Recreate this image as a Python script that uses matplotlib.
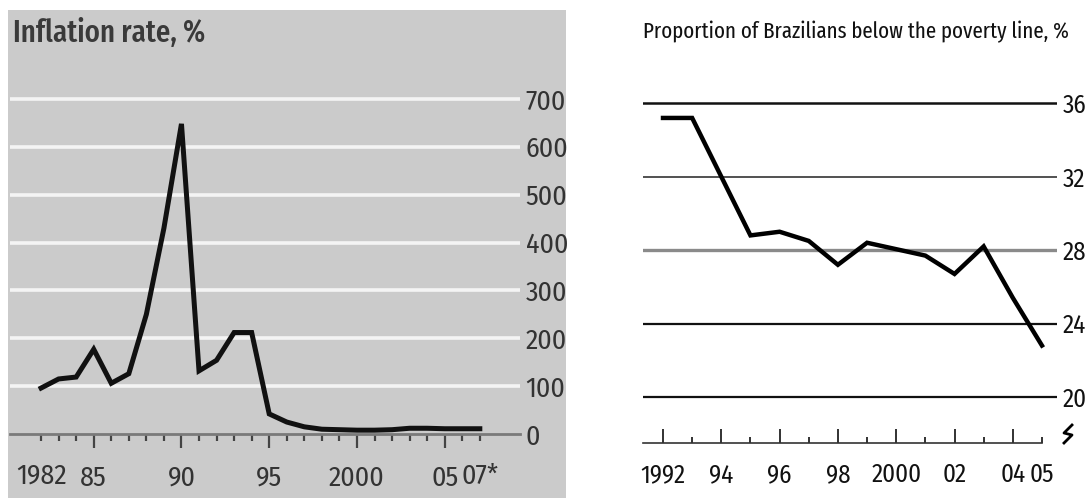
import matplotlib
matplotlib.use('Agg')
import matplotlib.pyplot as plt
from matplotlib import font_manager as fm
from matplotlib.patches import Rectangle
from matplotlib.lines import Line2D
from matplotlib.ticker import FixedLocator, FixedFormatter

# inflation rate, % (left panel)
infl_years = list(range(1982, 2008))
infl_rate = [96, 115, 119, 177, 106, 126, 250, 430, 648, 132, 154, 212, 212,
             42, 25, 15, 10, 9, 8, 8, 9, 12, 12, 11, 11, 11]
infl_yticks = [0, 100, 200, 300, 400, 500, 600, 700]
infl_major = [1985, 1990, 1995, 2000, 2005]
infl_major_lbl = ['85', '90', '95', '2000', '05']
infl_edge = [1982, 2007]
infl_edge_lbl = ['1982', '07*']

# proportion below poverty line, % (right panel), no survey in 1994 and 2000
pov_years = [1992, 1993, 1995, 1996, 1997, 1998, 1999, 2001, 2002, 2003, 2004, 2005]
pov_share = [35.2, 35.2, 28.8, 29.0, 28.5, 27.2, 28.4, 27.7, 26.7, 28.2, 25.4, 22.8]
pov_yticks = [20, 24, 28, 32, 36]
pov_major = [1992, 1994, 1996, 1998, 2000, 2002, 2004]
pov_major_lbl = ['1992', '94', '96', '98', '2000', '02', '04']
pov_minor = [1993, 1995, 1997, 1999, 2001, 2003, 2005]
pov_minor_lbl = ['', '', '', '', '', '', '05']

# narrow faces, like the magazine's
names = {f.name for f in fm.fontManager.ttflist}


def pick(cands):
    for c in cands:
        if c in names:
            return c
    return 'DejaVu Sans'


FONT = pick(['Fira Sans Condensed', 'Roboto Condensed', 'PT Sans Narrow',
             'Archivo Narrow', 'Liberation Sans Narrow'])
TITLE_FONT = pick(['Fira Sans Extra Condensed', 'Fira Sans Condensed',
                   'Roboto Condensed', 'PT Sans Narrow'])
plt.rcParams['font.family'] = [FONT, 'DejaVu Sans']

W, H = 1088, 498
fig = plt.figure(figsize=(W / 100, H / 100), dpi=100)
fig.patch.set_facecolor('white')


def box(x0, y0, x1, y1):
    # pixel box (top-left origin) -> figure fraction rect
    return [x0 / W, 1 - y1 / H, (x1 - x0) / W, (y1 - y0) / H]


# ---- left panel: grey photo-like background ----
fig.patches.append(Rectangle((8 / W, 0), (566 - 8) / W, 1 - 10 / H,
                             transform=fig.transFigure, facecolor='#cbcbcb',
                             edgecolor='none', zorder=-5))
fig.text(13 / W, 1 - 42 / H, 'Inflation rate, %', fontsize=22.5, color='#3a3a3a',
         ha='left', va='baseline', fontweight='medium',
         family=[TITLE_FONT, 'DejaVu Sans'])

ax1 = fig.add_axes(box(10, 60, 520, 434))
ax1.set_facecolor('none')
ax1.set_xlim(1980.23, 2009.29)
ax1.set_ylim(0, (434 - 60) / 0.4786)
for v in infl_yticks[1:]:
    ax1.axhline(v, color='#f4f4f4', lw=2.6, zorder=1)
ax1.plot(infl_years, infl_rate, color='#111111', lw=3.6, solid_joinstyle='miter',
         zorder=3, clip_on=False)
for s in ['top', 'left', 'right']:
    ax1.spines[s].set_visible(False)
ax1.spines['bottom'].set_color('#7a7a7a')
ax1.spines['bottom'].set_linewidth(2)
ax1.yaxis.tick_right()
ax1.set_yticks(infl_yticks)
ax1.set_yticklabels([str(v) for v in infl_yticks])
ax1.tick_params(axis='y', length=0, pad=4, labelsize=20, labelcolor='#333333')
for lbl in ax1.get_yticklabels():
    lbl.set_ha('left')
infl_minor = [y for y in infl_years if y not in infl_major]
ax1.xaxis.set_major_locator(FixedLocator(infl_major))
ax1.xaxis.set_major_formatter(FixedFormatter(infl_major_lbl))
ax1.xaxis.set_minor_locator(FixedLocator(infl_minor))
ax1.xaxis.set_minor_formatter(FixedFormatter(
    [infl_edge_lbl[infl_edge.index(y)] if y in infl_edge else '' for y in infl_minor]))
ax1.tick_params(axis='x', which='major', length=10, width=1.6, color='#444444',
                pad=12, labelsize=20, labelcolor='#333333')
ax1.tick_params(axis='x', which='minor', length=5, width=1.6, color='#444444',
                pad=12 + 5 * 72 / 100, labelsize=20, labelcolor='#333333')

# ---- right panel ----
fig.text(643 / W, 1 - 38 / H, 'Proportion of Brazilians below the poverty line, %',
         fontsize=16.4, color='#111111', ha='left', va='baseline',
         family=[TITLE_FONT, 'DejaVu Sans'])

ax2 = fig.add_axes(box(643, 95, 1057, 443))
ax2.set_xlim(1991.314, 2005.516)
ax2.set_ylim(17.49, 36.45)
grid_style = {20: ('#111111', 1.6), 24: ('#111111', 1.6), 28: ('#8a8a8a', 2.4),
              32: ('#222222', 1.1), 36: ('#111111', 1.8)}
for v in pov_yticks:
    c, w = grid_style[v]
    ax2.axhline(v, color=c, lw=w, zorder=1)
ax2.plot(pov_years, pov_share, color='black', lw=3.2, solid_joinstyle='miter',
         zorder=3)
for s in ['top', 'left', 'right']:
    ax2.spines[s].set_visible(False)
ax2.spines['bottom'].set_color('#333333')
ax2.spines['bottom'].set_linewidth(1.2)
ax2.spines['bottom'].set_bounds(1991.314, 2005)
ax2.yaxis.tick_right()
ax2.set_yticks(pov_yticks)
ax2.set_yticklabels([str(v) for v in pov_yticks])
ax2.tick_params(axis='y', length=0, pad=4, labelsize=18, labelcolor='#111111')
for lbl in ax2.get_yticklabels():
    lbl.set_ha('left')
ax2.xaxis.set_major_locator(FixedLocator(pov_major))
ax2.xaxis.set_major_formatter(FixedFormatter(pov_major_lbl))
ax2.xaxis.set_minor_locator(FixedLocator(pov_minor))
ax2.xaxis.set_minor_formatter(FixedFormatter(pov_minor_lbl))
ax2.tick_params(axis='x', which='major', direction='in', length=10, width=1.3,
                color='#222222', pad=14, labelsize=18, labelcolor='#111111')
ax2.tick_params(axis='x', which='minor', direction='in', length=4, width=1.3,
                color='#222222', pad=14, labelsize=18, labelcolor='#111111')

# axis-break mark after the last year
bx, by = 1068 / W, 1 - 434 / H
fig.lines.append(Line2D([bx + 4 / W, bx - 4 / W, bx + 4 / W, bx - 4 / W],
                        [by + 9 / H, by + 1 / H, by - 1 / H, by - 9 / H],
                        transform=fig.transFigure, color='black', lw=2))

fig.savefig('out.png', dpi=100)
